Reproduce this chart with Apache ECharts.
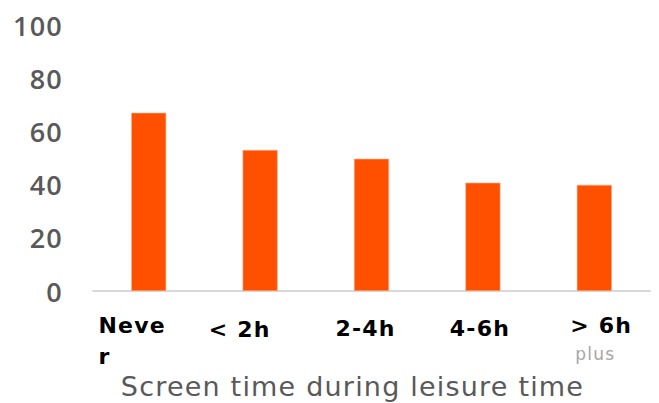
<!DOCTYPE html>
<html>
<head>
<meta charset="utf-8">
<style>
  html, body { margin: 0; padding: 0; background: #ffffff; overflow: hidden; }
  #chart { width: 659px; height: 403px; overflow: hidden; }
  #chart svg { display: block; }
  /* the chart's typography is tracked out a little */
  #chart svg text { letter-spacing: 1.2px; }
</style>
<script src="https://cdn.jsdelivr.net/npm/echarts@6/dist/echarts.min.js"></script>
</head>
<body>
<div id="chart"></div>
<script>
// Categories of daily leisure screen time
const categories = ['Never', '< 2h', '2-4h', '4-6h', '> 6h'];
// Bar heights (percent)
const values = [67, 53, 49.7, 40.7, 39.9];
// Value-axis tick range
const yTicks = { min: 0, max: 100, step: 20 };
const axisTitle = 'Screen time during leisure time';

const FONT = 'DejaVu Sans';

// Rich-text label layout per category (horizontal nudges relative to the tick centre)
function labelFor(value) {
  switch (value) {
    case 'Never': return '{nv|Neve}\n{nr|r}';
    case '< 2h': return '{c2|' + value + '}';
    case '2-4h': return '{c3|' + value + '}';
    case '4-6h': return '{c4|' + value + '}';
    case '> 6h': return '{c5|' + value + '}\n{pl|plus}';
  }
  return value;
}

const base = { fontFamily: FONT, fontWeight: 'bold', fontSize: 22, color: '#000000', lineHeight: 30 };

const chart = echarts.init(document.getElementById('chart'), null, { renderer: 'svg' });
chart.setOption({
  animation: false,
  backgroundColor: '#ffffff',
  grid: { left: 93, right: 9, top: 25, bottom: 112, containLabel: false, outerBoundsMode: 'none' },
  xAxis: {
    type: 'category',
    data: categories,
    axisTick: { show: false },
    axisLine: { show: true, lineStyle: { color: '#d9d9d9', width: 2 } },
    axisLabel: {
      interval: 0,
      margin: 19,
      formatter: labelFor,
      fontFamily: FONT,
      rich: {
        nv: Object.assign({}, base, { align: 'left', padding: [0, 38, 0, 0] }),
        nr: Object.assign({}, base, { align: 'left', padding: [3, 0, 0, 0] }),
        c2: Object.assign({}, base, { padding: [8, 41, 0, 0] }),
        c3: Object.assign({}, base, { padding: [6, 12, 0, 0] }),
        c4: Object.assign({}, base, { padding: [6, 6, 0, 0] }),
        c5: Object.assign({}, base, { padding: [0, 0, 0, 14] }),
        pl: { fontFamily: FONT, fontSize: 17, color: '#a6a6a6', lineHeight: 26, padding: [1, 0, 0, 2] }
      }
    },
    name: axisTitle,
    nameLocation: 'middle',
    nameGap: 82,
    nameTextStyle: {
      fontFamily: FONT,
      fontSize: 27,
      fontWeight: 'normal',
      color: '#595959',
      padding: [0, 38, 0, 0]
    }
  },
  yAxis: {
    type: 'value',
    min: yTicks.min,
    max: yTicks.max,
    interval: yTicks.step,
    splitLine: { show: false },
    axisLine: { show: false },
    axisTick: { show: false },
    axisLabel: {
      margin: 30,
      padding: [0, 0, 5, 0],
      fontFamily: 'Open Sans',
      fontSize: 27,
      fontWeight: 600,
      color: '#595959'
    }
  },
  series: [{
    type: 'bar',
    data: values,
    barWidth: 35,
    itemStyle: { color: '#ff5000', borderColor: '#ffab8a', borderWidth: 0.6 }
  }]
});
</script>
</body>
</html>
